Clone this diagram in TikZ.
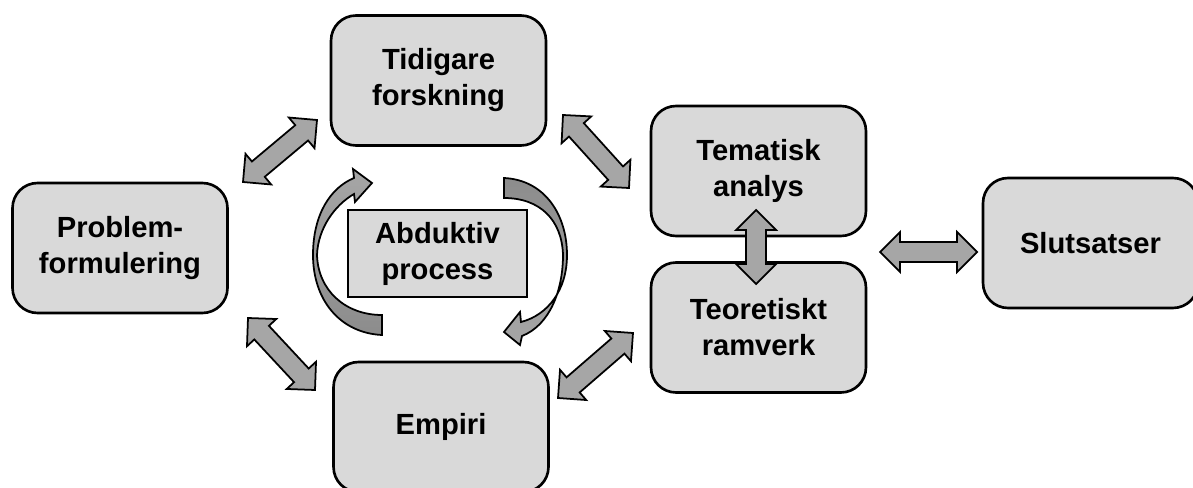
\documentclass[tikz,border=0pt]{standalone}
\usepackage{fontspec}
\setmainfont{Liberation Sans}
\usetikzlibrary{calc}
\definecolor{boxgray}{HTML}{D9D9D9}
\definecolor{arrowgray}{HTML}{A6A6A6}
\newcommand\fatarrow[2]{%
  \filldraw[fat] (#1) -- ($(#1)!0.4cm!(#2)!0.4cm!90:(#2)$) -- ($(#1)!0.4cm!(#2)!0.2cm!90:(#2)$)
    -- ($(#2)!0.4cm!(#1)!0.2cm!-90:(#1)$) -- ($(#2)!0.4cm!(#1)!0.4cm!-90:(#1)$) -- (#2)
    -- ($(#2)!0.4cm!(#1)!0.4cm!90:(#1)$) -- ($(#2)!0.4cm!(#1)!0.2cm!90:(#1)$)
    -- ($(#1)!0.4cm!(#2)!0.2cm!-90:(#2)$) -- ($(#1)!0.4cm!(#2)!0.4cm!-90:(#2)$) -- cycle;}

\begin{document}
\begin{tikzpicture}[x=0.02cm, y=0.02cm,
            stage/.style={draw, line width=1.5pt, rounded corners=0.5cm, fill=boxgray,
                          minimum width=4.3cm, minimum height=2.6cm, align=center,
                          font=\fontsize{16.6}{20.5}\selectfont\bfseries},
            fat/.style={fill=arrowgray, draw=black, line width=1pt, line join=miter},
            swirl/.style={draw=black, line width=1pt, line join=miter}]
        \useasboundingbox (0,0) rectangle (1193,487);
        \node[stage] (tidigare) at (438.5,406.5) {Tidigare\\forskning};
        \node[stage] (problem) at (120,239) {Problem-\\formulering};
        \node[stage] (empiri) at (441,60) {Empiri};
        \node[stage] (tematisk) at (758.5,316) {Tematisk\\analys};
        \node[stage] (teoretiskt) at (758.5,159.5) {Teoretiskt\\ramverk};
        \node[stage] (slutsatser) at (1090.5,244) {Slutsatser};
        \node[stage, rounded corners=0pt, line width=1.2pt, minimum width=3.58cm,
              minimum height=1.74cm] (abduktiv) at (437.5,233.5) {Abduktiv\\process};

        \coordinate (pt-a) at (243,305);  \coordinate (pt-b) at (317,367);
        \coordinate (tt-a) at (563,372);  \coordinate (tt-b) at (629,299);
        \coordinate (pe-a) at (248,169);  \coordinate (pe-b) at (315,97);
        \coordinate (et-a) at (558,89);   \coordinate (et-b) at (633,154);
        \coordinate (ts-a) at (880,235);  \coordinate (ts-b) at (977,235);
        \coordinate (ta-a) at (756,277);  \coordinate (ta-b) at (756,203);
        \fatarrow{pt-a}{pt-b}
        \fatarrow{tt-a}{tt-b}
        \fatarrow{pe-a}{pe-b}
        \fatarrow{et-a}{et-b}
        \fatarrow{ts-a}{ts-b}
        \fatarrow{ta-a}{ta-b}

        \draw[swirl, top color=arrowgray, bottom color=gray!90]
            (382,152) .. controls (340,154) and (313,187) .. (313,232)
            .. controls (313,272) and (330,299) .. (354,309)
            -- (353,318) -- (372,304) -- (355,285) -- (354,293)
            .. controls (335,282) and (318,259) .. (317,232)
            .. controls (318,197) and (345,172) .. (382,172) -- cycle;
        \draw[swirl, top color=gray!90, bottom color=arrowgray]
            (504,309) .. controls (545,307) and (567,272) .. (567,232)
            .. controls (567,197) and (548,172) .. (521,165)
            -- (520,175) -- (504,155) -- (520,142) -- (522,151)
            .. controls (550,162) and (563,197) .. (563,232)
            .. controls (562,267) and (540,289) .. (504,289) -- cycle;
\end{tikzpicture}
\end{document}
